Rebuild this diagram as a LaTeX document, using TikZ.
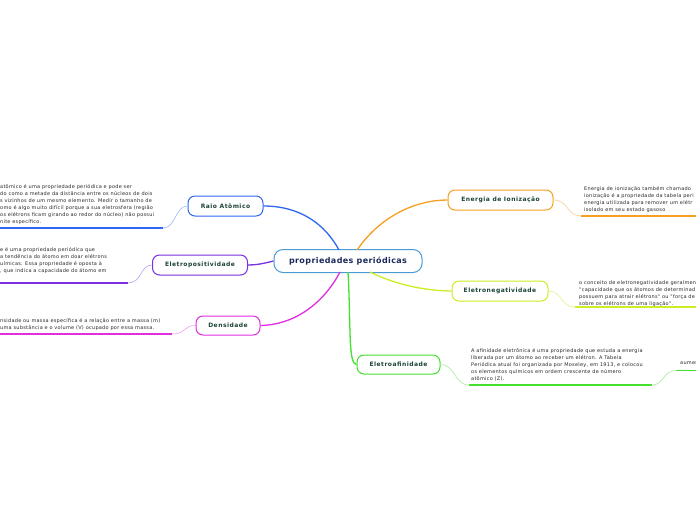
\documentclass[tikz,border=0pt]{standalone}
\usepackage{fontspec}
\setmainfont{DejaVu Sans}
\newfontfamily\bodyf[LetterSpace=5]{DejaVu Sans}
\newfontfamily\labf[LetterSpace=8]{DejaVu Sans}
\newfontfamily\cenf[LetterSpace=5]{DejaVu Sans}
\begin{document}
\begin{tikzpicture}[x=1pt,y=-1pt,
  topic/.style={draw=#1,line width=1pt,rounded corners=7pt,fill=white,inner sep=0pt,
     font=\labf\fontsize{6}{7}\selectfont\bfseries,text=nodetxt,minimum height=20pt},
  body/.style={inner sep=0pt,anchor=north west,align=left,font=\bodyf\fontsize{5}{7}\selectfont,text=bodytxt},
  main/.style={draw=#1,line width=1.3pt},
  sub/.style={draw=#1,line width=0.6pt},
  uline/.style={draw=#1,line width=1.4pt}]
\definecolor{nodetxt}{HTML}{1D4437}
\definecolor{bodytxt}{HTML}{2A2A2A}
\definecolor{ctxt}{HTML}{1B2A5C}
\definecolor{cblue}{HTML}{4A9AD6}
\definecolor{raio}{HTML}{2F66F2}
\definecolor{raiol}{HTML}{9DB8F7}
\definecolor{epos}{HTML}{7A2FE0}
\definecolor{eposl}{HTML}{BFA0F2}
\definecolor{dens}{HTML}{E02EE0}
\definecolor{densl}{HTML}{EEA0EE}
\definecolor{ener}{HTML}{F5A020}
\definecolor{enerl}{HTML}{F9CE8E}
\definecolor{eneg}{HTML}{CCEE22}
\definecolor{enegl}{HTML}{E2F48E}
\definecolor{eafi}{HTML}{44E030}
\definecolor{eafil}{HTML}{A6F09A}
\useasboundingbox (0,0) rectangle (696,520);
\clip (0,0) rectangle (696,520);
\fill[white] (0,0) rectangle (696,520);

% central node
\node[draw=cblue,line width=1pt,rounded corners=9pt,fill=white,minimum width=148pt,minimum height=23pt,
      font=\cenf\fontsize{8}{9}\selectfont\bfseries,text=ctxt] (c) at (348,261) {propriedades periódicas};

% topic nodes
\node[topic=raio,minimum width=75pt] (raio) at (225.5,206) {Raio Atômico};
\node[topic=epos,minimum width=95pt] (epos) at (200,265) {Eletropositividade};
\node[topic=dens,minimum width=64pt,minimum height=19pt] (dens) at (228,325.5) {Densidade};
\node[topic=ener,minimum width=105pt] (ener) at (500.5,200) {Energia de Ionização};
\node[topic=eneg,minimum width=96pt] (eneg) at (500,291) {Eletronegatividade};
\node[topic=eafi,minimum width=83pt,minimum height=19pt] (eafi) at (398.5,364.5) {Eletroafinidade};

% main connectors
\coordinate (c1) at (339,250);
\coordinate (c3) at (340,272);
\coordinate (c4) at (357,250);
\coordinate (c5) at (370,272);
\coordinate (c6) at (348,272);
\draw[main=raio] (c1) .. controls (325,224) and (300,206) .. (raio.east);
\draw[main=epos] (c.west) .. controls (262,264) and (255,265) .. (epos.east);
\draw[main=dens] (c3) .. controls (322,306) and (292,325) .. (dens.east);
\draw[main=ener] (c4) .. controls (382,214) and (418,200) .. (ener.west);
\draw[main=eneg] (c5) .. controls (398,286) and (430,291) .. (eneg.west);
\draw[main=eafi] (c6) .. controls (351,325) and (348,364.5) .. (eafi.west);

% free ends of sub connectors / underlines
\coordinate (r1) at (163,228); \coordinate (r2) at (-5,228);
\coordinate (p1) at (128,283); \coordinate (p2) at (-5,283);
\coordinate (d1) at (172,334); \coordinate (d2) at (-5,334);
\coordinate (e1) at (581,216); \coordinate (e2) at (700,216);
\coordinate (n1) at (575,307); \coordinate (n2) at (700,307);
\coordinate (a1) at (469,385); \coordinate (a2) at (652,385);
\coordinate (a3) at (676,370.5); \coordinate (a4) at (700,370.5);

\draw[sub=raiol] (raio.west) .. controls (175,206) and (176,228) .. (r1);
\draw[uline=raio] (r1) -- (r2);
\draw[sub=eposl] (epos.west) .. controls (140,265) and (142,283) .. (p1);
\draw[uline=epos] (p1) -- (p2);
\draw[sub=densl] (dens.west) .. controls (184,325) and (186,334) .. (d1);
\draw[uline=dens] (d1) -- (d2);
\draw[sub=enerl] (ener.east) .. controls (568,200) and (567,216) .. (e1);
\draw[uline=ener] (e1) -- (e2);
\draw[sub=enegl] (eneg.east) .. controls (562,291) and (561,307) .. (n1);
\draw[uline=eneg] (n1) -- (n2);
\draw[sub=eafil] (eafi.east) .. controls (456,365) and (454,385) .. (a1);
\draw[uline=eafi] (a1) -- (a2);
\draw[sub=eafil] (a2) .. controls (664,385) and (663,370.5) .. (a3);
\draw[uline=eafi] (a3) -- (a4);

% body texts
\node[body] (traio) at (0,184) {atômico é uma propriedade periódica e pode ser\\
do como a metade da distância entre os núcleos de dois\\
s vizinhos de um mesmo elemento. Medir o tamanho de\\
omo é algo muito difícil porque a sua eletrosfera (região\\
os elétrons ficam girando ao redor do núcleo) não possui\\
nite específico.};
\node[body] (tepos) at (0,247) {e é uma propriedade periódica que\\
a tendência do átomo em doar elétrons\\
uímicas. Essa propriedade é oposta à\\
, que indica a capacidade do átomo em};
\node[body] (tdens) at (0,318) {nsidade ou massa específica é a relação entre a massa (m)\\
uma substância e o volume (V) ocupado por essa massa.};
\node[body] (tener) at (584,186) {Energia de ionização também chamado\\
ionização é a propriedade da tabela peri\\
energia utilizada para remover um elétr\\
isolado em seu estado gasoso};
\node[body] (teneg) at (579,280) {o conceito de eletronegatividade geralmen\\
"capacidade que os átomos de determinad\\
possuem para atrair elétrons" ou "força de\\
sobre os elétrons de uma ligação".};
\node[body] (teafi) at (471,348) {A afinidade eletrônica é uma propriedade que estuda a energia\\
liberada por um átomo ao receber um elétron. A Tabela\\
Periódica atual foi organizada por Moseley, em 1913, e colocou\\
os elementos químicos em ordem crescente de número\\
atômico (Z).};
\node[body] (taum) at (680,361) {aumer};
\end{tikzpicture}
\end{document}
